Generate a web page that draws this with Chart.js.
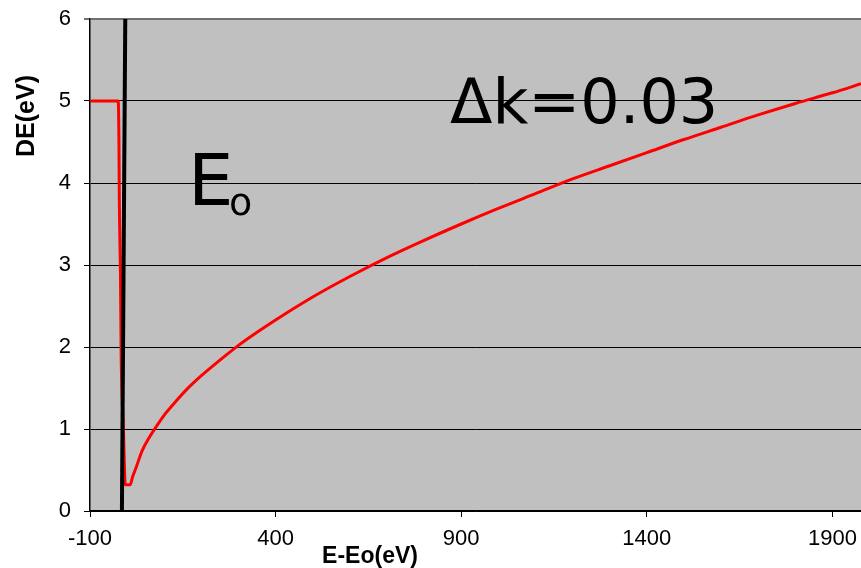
<!DOCTYPE html>
<html>
<head>
<meta charset="utf-8">
<script src="https://cdn.jsdelivr.net/npm/chart.js@4.4.0/dist/chart.umd.min.js"></script>
<style>
  html, body { margin: 0; padding: 0; background: #fff; }
  #wrap { width: 861px; height: 568px; }
</style>
</head>
<body>
<div id="wrap"><canvas id="myChart" width="861" height="568"></canvas></div>
<script>
// datos
const redX = [-100, -24, -22, -21, -18, -16, -10, -5, 8, 15, 25, 40, 60, 80, 100, 130, 160, 200, 250, 300, 350, 400,
  500, 600, 700, 800, 900, 1000, 1100, 1200, 1300, 1400, 1500, 1600, 1700, 1800, 1900, 1977];
const redY = [5, 5, 4.5, 3.8, 2.9, 1.9, 1.0, 0.32, 0.32, 0.42, 0.54, 0.73, 0.90, 1.04, 1.17, 1.33, 1.48, 1.65, 1.84, 2.02, 2.18, 2.33,
  2.61, 2.86, 3.09, 3.30, 3.50, 3.69, 3.87, 4.05, 4.21, 4.37, 4.53, 4.68, 4.83, 4.97, 5.10, 5.21];
const edgeX = [-14, -5];
const edgeY = [0, 6];
const xTicks = [-100, 400, 900, 1400, 1900];
const yTicks = [0, 1, 2, 3, 4, 5, 6];

const toPoints = (xs, ys) => xs.map((x, i) => ({ x: x, y: ys[i] }));

// fondo gris y textos
const extras = {
  id: 'extras',
  beforeDraw(chart) {
    const { ctx, chartArea } = chart;
    ctx.save();
    ctx.fillStyle = '#c0c0c0';
    ctx.fillRect(chartArea.left, chartArea.top, chartArea.right - chartArea.left, chartArea.bottom - chartArea.top);
    ctx.restore();
  },
  afterDraw(chart) {
    const { ctx } = chart;
    ctx.save();
    ctx.fillStyle = '#000';
    ctx.textBaseline = 'alphabetic';
    ctx.textAlign = 'left';
    ctx.font = '62px "Comic Sans MS", "DejaVu Sans", sans-serif';
    ctx.fillText('Δk=0.03', 450, 123);
    ctx.font = '72px "Comic Sans MS", "DejaVu Sans", sans-serif';
    ctx.fillText('E', 188, 205);
    ctx.font = '38px "Comic Sans MS", "DejaVu Sans", sans-serif';
    ctx.fillText('o', 229, 215);

    ctx.font = 'bold 23px "Liberation Sans", Arial, sans-serif';
    ctx.textAlign = 'center';
    ctx.textBaseline = 'middle';
    ctx.fillText('E-Eo(eV)', 370, 557);
    ctx.font = 'bold 25px "Liberation Sans", Arial, sans-serif';
    ctx.translate(27, 116);
    ctx.rotate(-Math.PI / 2);
    ctx.fillText('DE(eV)', 0, 0);
    ctx.restore();
  }
};

const config = {
  type: 'line',
  data: {
    datasets: [
      {
        data: toPoints(edgeX, edgeY),
        borderColor: '#000',
        borderWidth: 4,
        pointRadius: 0,
        fill: false,
        clip: false
      },
      {
        data: toPoints(redX, redY),
        borderColor: '#ff0000',
        borderWidth: 3,
        pointRadius: 0,
        fill: false,
        cubicInterpolationMode: 'monotone'
      }
    ]
  },
  options: {
    responsive: false,
    animation: false,
    layout: { padding: { top: 19, right: 0, left: 0, bottom: 0 } },
    plugins: { legend: { display: false }, tooltip: { enabled: false } },
    scales: {
      x: {
        type: 'linear',
        min: -100,
        max: 1977,
        afterBuildTicks: (scale) => { scale.ticks = xTicks.map(v => ({ value: v })); },
        afterFit: (scale) => { scale.height = 57; scale.paddingRight = 0; },
        grid: { drawOnChartArea: false, drawTicks: true, tickLength: 6, color: '#000', lineWidth: 1 },
        border: { color: '#000', width: 1.5 },
        ticks: {
          color: '#000',
          padding: 9,
          maxRotation: 0,
          callback: (v) => String(v),
          font: { family: '"Liberation Sans", Arial, sans-serif', size: 22 }
        }
      },
      y: {
        min: 0,
        max: 6,
        afterBuildTicks: (scale) => { scale.ticks = yTicks.map(v => ({ value: v })); },
        afterFit: (scale) => { scale.width = 90; scale.paddingTop = 0; scale.paddingBottom = 0; },
        grid: {
          drawTicks: true,
          tickLength: 6,
          color: (c) => (c.tick && c.tick.value === 6) ? '#707070' : '#000',
          lineWidth: (c) => (c.tick && c.tick.value === 6) ? 2 : 1
        },
        border: { color: '#000', width: 1.5 },
        ticks: {
          color: '#000',
          padding: 13,
          callback: (v) => String(v),
          font: { family: '"Liberation Sans", Arial, sans-serif', size: 22 }
        }
      }
    }
  },
  plugins: [extras]
};

new Chart(document.getElementById('myChart'), config);
</script>
</body>
</html>
